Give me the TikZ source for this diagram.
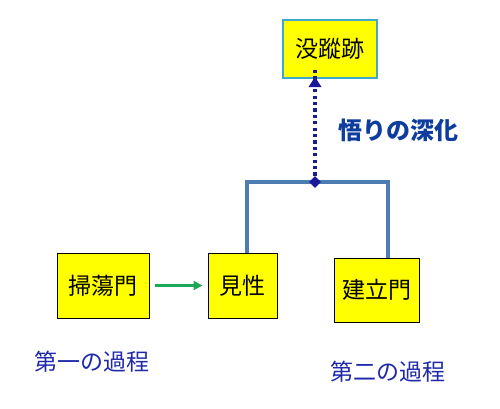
\documentclass[tikz,border=0pt]{standalone}
\usepackage{fontspec}
\newfontfamily\jp{Noto Sans CJK JP}
\usetikzlibrary{arrows.meta,shapes.geometric}
\definecolor{boxyellow}{HTML}{FFFF00}
\definecolor{tealb}{HTML}{3FA8C8}
\definecolor{navy}{HTML}{1A1A99}
\definecolor{labblue}{HTML}{1F2AA8}
\definecolor{satblue}{HTML}{0E3D9E}
\definecolor{brack}{HTML}{4D7CB3}
\definecolor{grn}{HTML}{1DA857}
\tikzset{
  box/.style={draw=black, line width=1pt, fill=boxyellow, font=\jp\fontsize{23}{23}\selectfont, inner sep=0pt},
  lab/.style={font=\jp\fontsize{23}{23}\selectfont, text=labblue, inner sep=0pt},
  bracket/.style={draw=brack, line width=3.2pt},
  dots/.style={draw=navy, line width=3.2pt, dash pattern=on 3.2pt off 3.2pt},
}
\begin{document}
\begin{tikzpicture}[x=1pt,y=-1pt]
\useasboundingbox (0,0) rectangle (500,408);
\node[box, draw=tealb, line width=2pt, minimum width=94pt, minimum height=58pt] (mot) at (330,49) {没蹤跡};
\node[box, minimum width=92pt, minimum height=65pt] (soto) at (103,285.5) {掃蕩門};
\node[box, minimum width=69pt, minimum height=65pt] (ken) at (242.5,285.5) {見性};
\node[box, minimum width=85pt, minimum height=64pt] (kon) at (376.5,290) {建立門};
\coordinate (j) at (315,182);
\coordinate (bl) at (247,182);
\coordinate (br) at (388,182);
\draw[bracket] (ken.north -| bl) -- (bl) -- (br) -- (kon.north -| br);
\draw[dots] (j) -- ([yshift=10pt]j |- mot.south);
\fill[navy] ([yshift=2pt]j |- mot.south) -- ++(-6.5,10) -- ++(13,0) -- cycle;
\node[diamond, fill=navy, minimum width=12pt, minimum height=12pt, inner sep=0pt] (dm) at (j) {};
\node[lab, font=\jp\bfseries\fontsize{24}{24}\selectfont, text=satblue] (sat) at (398,130) {悟りの深化};
\draw[grn, line width=2.6pt, -{Triangle[length=9pt,width=9pt]}] ([xshift=5pt]soto.east) -- ([xshift=-5pt]ken.west);
\node[lab] (p1) at (92,362) {第一の過程};
\node[lab] (p2) at (388,372) {第二の過程};
\end{tikzpicture}
\end{document}
